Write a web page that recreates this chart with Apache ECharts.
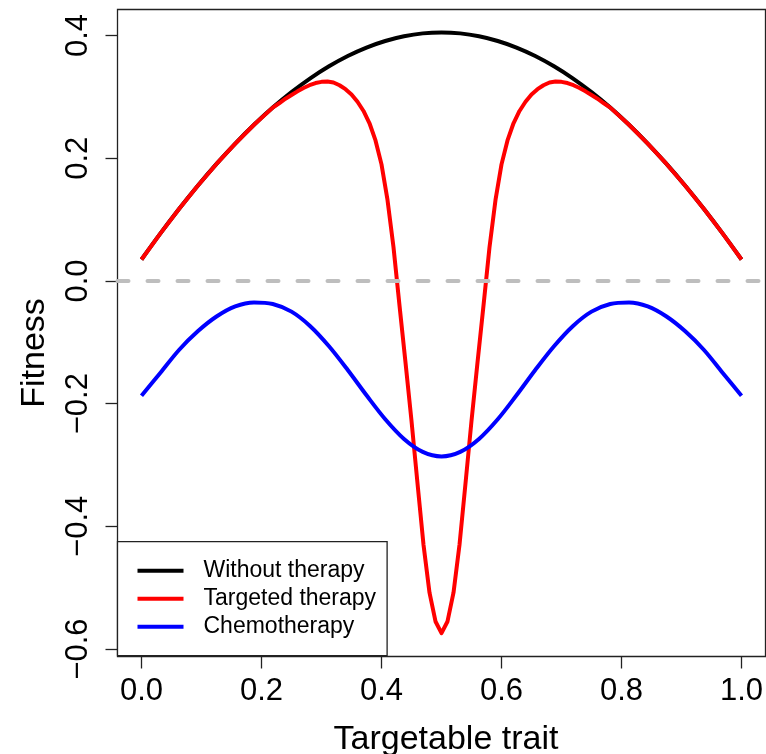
<!DOCTYPE html>
<html><head><meta charset="utf-8">
<script src="https://cdn.jsdelivr.net/npm/echarts@6/dist/echarts.min.js"></script>
<style>html,body{margin:0;padding:0;background:#fff}#c{width:766px;height:754px}</style>
</head><body><div id="c"></div>
<script>
const seriesNames = ['Without therapy', 'Targeted therapy', 'Chemotherapy'];
// trait grid (steps of 1/32)
const traitX = [0,0.03125,0.0625,0.09375,0.125,0.15625,0.1875,0.21875,0.25,0.28125,0.3125,0.34375,0.375,0.40625,0.4375,0.46875,0.5,
  0.53125,0.5625,0.59375,0.625,0.65625,0.6875,0.71875,0.75,0.78125,0.8125,0.84375,0.875,0.90625,0.9375,0.96875,1.0];
const withoutTherapy = [0.035,0.0771,0.1172,0.1551,0.1907,0.2239,0.2545,0.2825,0.3078,0.3303,0.3499,0.3667,0.3804,0.3911,0.3988,0.4035,0.405,
  0.4035,0.3988,0.3911,0.3804,0.3667,0.3499,0.3303,0.3078,0.2825,0.2545,0.2239,0.1907,0.1551,0.1172,0.0771,0.035];
const chemotherapy = [-0.187,-0.150,-0.1125,-0.0821,-0.0580,-0.0415,-0.0350,-0.0375,-0.0500,-0.0737,-0.1064,-0.1451,-0.1863,-0.2254,-0.2575,-0.2786,-0.286,
  -0.2786,-0.2575,-0.2254,-0.1863,-0.1451,-0.1064,-0.0737,-0.0500,-0.0375,-0.0350,-0.0415,-0.0580,-0.0821,-0.1125,-0.150,-0.187];
const targetedX = [0,0.03125,0.0625,0.09375,0.125,0.15625,0.1875,0.21875,
  0.23,0.24,0.25,0.26,0.27,0.28,0.29,0.30,0.31,0.32,0.33,0.34,0.35,0.36,0.37,0.38,0.39,0.40,0.41,0.42,0.43,0.44,0.45,0.46,0.47,0.48,0.49,0.50,
  0.51,0.52,0.53,0.54,0.55,0.56,0.57,0.58,0.59,0.60,0.61,0.62,0.63,0.64,0.65,0.66,0.67,0.68,0.69,0.70,0.71,0.72,0.73,0.74,0.75,0.76,0.77,
  0.78125,0.8125,0.84375,0.875,0.90625,0.9375,0.96875,1.0];
const targetedTherapy = [0.035,0.0771,0.1172,0.1551,0.1907,0.2239,0.2545,0.2825,
  0.290,0.297,0.303,0.309,0.3145,0.319,0.3225,0.3245,0.325,0.3235,0.319,0.3125,0.304,0.292,0.277,0.257,0.229,0.190,0.132,0.055,-0.040,-0.133,-0.228,-0.330,-0.430,-0.508,-0.555,-0.574,
  -0.555,-0.508,-0.430,-0.330,-0.228,-0.133,-0.040,0.055,0.132,0.190,0.229,0.257,0.277,0.292,0.304,0.3125,0.319,0.3235,0.325,0.3245,0.3225,0.319,0.3145,0.309,0.303,0.297,0.290,
  0.2825,0.2545,0.2239,0.1907,0.1551,0.1172,0.0771,0.035];
const xTicks = [0, 0.2, 0.4, 0.6, 0.8, 1.0];
const yTicks = [-0.6, -0.4, -0.2, 0, 0.2, 0.4];

const FONT = 'Liberation Sans, Arial, Helvetica, sans-serif';
const fmt = v => (v < 0 ? '\u2212' : '') + Math.abs(v).toFixed(1);
const zip = (xs, ys) => xs.map((x, i) => [x, ys[i]]);

const chart = echarts.init(document.getElementById('c'), null, {renderer: 'canvas'});
chart.setOption({
  animation: false,
  backgroundColor: '#fff',
  grid: {left: 117.5, top: 9.5, width: 648, height: 647, show: true, borderColor: '#222', borderWidth: 1.3,
    backgroundColor: 'transparent', containLabel: false, outerBoundsMode: 'none'},
  xAxis: {
    type: 'value', min: -0.04, max: 1.04,
    axisLine: {show: false, onZero: false},
    splitLine: {show: false},
    axisTick: {show: true, length: 12, lineStyle: {color: '#222', width: 1.3}, customValues: xTicks},
    axisLabel: {customValues: xTicks, formatter: fmt, fontSize: 31, color: '#000', fontFamily: FONT, margin: 19},
    name: 'Targetable trait', nameLocation: 'middle', nameGap: 66,
    nameTextStyle: {fontSize: 34, color: '#000', fontFamily: FONT, padding: [0, 0, 0, 9]}
  },
  yAxis: {
    type: 'value', min: -0.6121, max: 0.4424,
    axisLine: {show: false, onZero: false},
    splitLine: {show: false},
    axisTick: {show: true, length: 12, lineStyle: {color: '#222', width: 1.3}, customValues: yTicks},
    axisLabel: {customValues: yTicks, formatter: fmt, fontSize: 31, color: '#000', fontFamily: FONT, rotate: 90, margin: 24},
    name: 'Fitness', nameLocation: 'middle', nameGap: 66,
    nameTextStyle: {fontSize: 34, color: '#000', fontFamily: FONT, padding: [0, 40, 0, 0]}
  },
  legend: {
    orient: 'vertical', left: 117.5, top: 541.7,
    data: seriesNames.map(n => ({name: n, icon: 'rect'})),
    itemWidth: 46, itemHeight: 4, itemGap: 0,
    padding: [15, 11, 15, 20],
    borderColor: '#222', borderWidth: 1.3, backgroundColor: '#fff', borderRadius: 0,
    textStyle: {fontSize: 23, color: '#000', fontFamily: FONT, lineHeight: 28, padding: [0, 0, 0, 15]}
  },
  series: [
    {
      name: 'zero', type: 'line', data: [], z: 1, silent: true,
      markLine: {symbol: ['none', 'none'], silent: true, label: {show: false},
        lineStyle: {color: '#bebebe', width: 4, type: [11, 19], cap: 'round'},
        data: [{yAxis: 0}]}
    },
    {name: seriesNames[0], type: 'line', data: zip(traitX, withoutTherapy), smooth: 0.33, showSymbol: false, symbol: 'none',
      lineStyle: {color: '#000', width: 4}, itemStyle: {color: '#000'}, z: 2},
    {name: seriesNames[1], type: 'line', data: zip(targetedX, targetedTherapy), smooth: false, showSymbol: false, symbol: 'none',
      lineStyle: {color: '#ff0000', width: 4, join: 'round'}, itemStyle: {color: '#ff0000'}, z: 3},
    {name: seriesNames[2], type: 'line', data: zip(traitX, chemotherapy), smooth: 0.33, showSymbol: false, symbol: 'none',
      lineStyle: {color: '#0000ff', width: 4}, itemStyle: {color: '#0000ff'}, z: 4}
  ]
});
</script></body></html>
